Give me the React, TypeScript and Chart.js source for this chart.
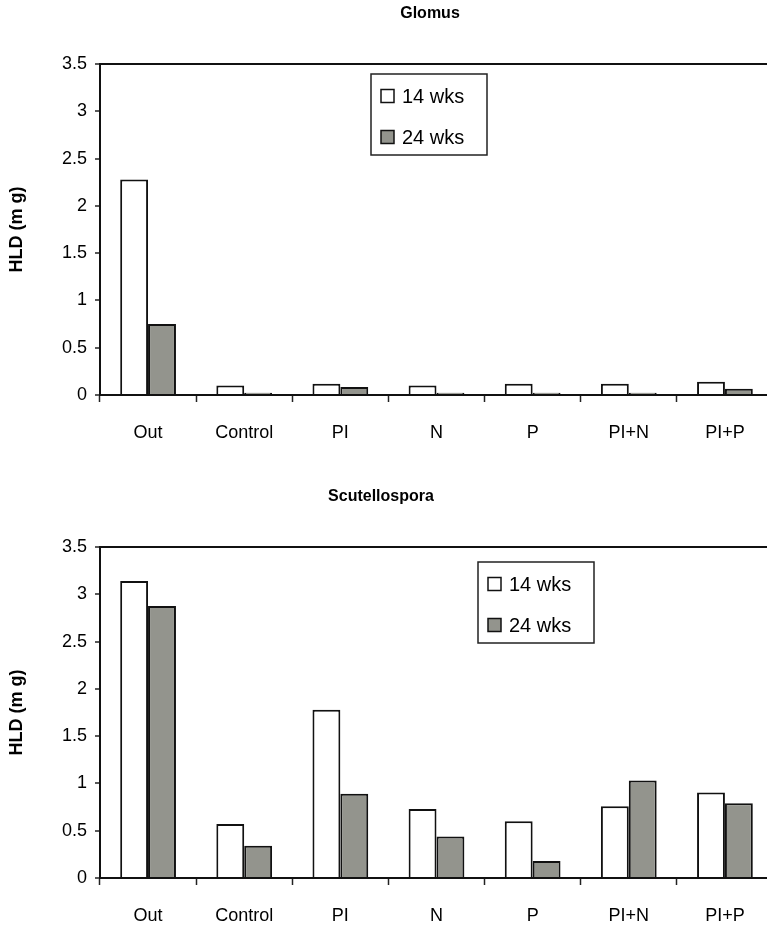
import React, { useEffect, useRef } from "react";
import { Chart, registerables } from "chart.js";

Chart.register(...registerables);

// ---- data ----
const categories = ["Out", "Control", "PI", "N", "P", "PI+N", "PI+P"];
const seriesNames = ["14 wks", "24 wks"];
const glomus14 = [2.28, 0.1, 0.12, 0.1, 0.12, 0.12, 0.14];
const glomus24 = [0.75, 0.025, 0.085, 0.025, 0.025, 0.025, 0.065];
const scut14 = [3.14, 0.57, 1.78, 0.73, 0.6, 0.76, 0.905];
const scut24 = [2.875, 0.34, 0.89, 0.44, 0.18, 1.03, 0.79];
const yMin = 0;
const yMax = 3.5;
const yStep = 0.5;
const yTitle = "HLD (m g)";

const FONT = "'Liberation Sans', Arial, Helvetica, sans-serif";
const GRAY = "#93948d";
const INK = "#111111";
const CW = 800;
const CH = 483;

type PanelProps = {
  title: string;
  titleX: number;
  legendX: number;
  legendY: number;
  s1: number[];
  s2: number[];
};

function BarPanel({ title, titleX, legendX, legendY, s1, s2 }: PanelProps) {
  const ref = useRef<HTMLCanvasElement | null>(null);

  useEffect(() => {
    if (!ref.current) return;

    const titlePlugin = {
      id: "panelTitle",
      afterDraw(chart: any) {
        const ctx = chart.ctx;
        ctx.save();
        ctx.font = `bold 16px ${FONT}`;
        ctx.fillStyle = "#000";
        ctx.textAlign = "center";
        ctx.textBaseline = "middle";
        ctx.fillText(title, titleX, 14);
        ctx.restore();
      },
    };

    const legendPlugin = {
      id: "boxLegend",
      afterDraw(chart: any) {
        const ctx = chart.ctx;
        const w = 116;
        const h = 81;
        ctx.save();
        ctx.fillStyle = "#fff";
        ctx.fillRect(legendX, legendY, w, h);
        ctx.strokeStyle = "#222";
        ctx.lineWidth = 1.5;
        ctx.strokeRect(legendX, legendY, w, h);
        chart.data.datasets.forEach((ds: any, i: number) => {
          const cy = legendY + 22 + i * 41;
          ctx.fillStyle = ds.backgroundColor;
          ctx.fillRect(legendX + 10, cy - 6.5, 13, 13);
          ctx.strokeStyle = INK;
          ctx.lineWidth = 1.5;
          ctx.strokeRect(legendX + 10, cy - 6.5, 13, 13);
          ctx.fillStyle = "#000";
          ctx.font = `20px ${FONT}`;
          ctx.textAlign = "left";
          ctx.textBaseline = "middle";
          ctx.fillText(ds.label, legendX + 31, cy + 1);
        });
        ctx.restore();
      },
    };

    const chart = new Chart(ref.current, {
      type: "bar",
      data: {
        labels: categories,
        datasets: [
          {
            label: seriesNames[0],
            data: s1,
            backgroundColor: "#ffffff",
            borderColor: INK,
            borderWidth: 2,
            categoryPercentage: 0.58,
            barPercentage: 1,
          },
          {
            label: seriesNames[1],
            data: s2,
            backgroundColor: GRAY,
            borderColor: INK,
            borderWidth: 2,
            categoryPercentage: 0.58,
            barPercentage: 1,
          },
        ],
      },
      options: {
        animation: false,
        responsive: false,
        maintainAspectRatio: false,
        devicePixelRatio: 1,
        layout: { padding: { top: 64, right: 27, left: 0, bottom: 0 } },
        plugins: {
          legend: { display: false },
          tooltip: { enabled: false },
          title: { display: false },
        },
        scales: {
          x: {
            offset: true,
            grid: {
              display: true,
              offset: true,
              drawOnChartArea: false,
              drawTicks: true,
              tickLength: 7,
              tickColor: "#222",
              tickWidth: 1.5,
            },
            border: { display: true, color: INK, width: 2 },
            ticks: {
              color: "#000",
              font: { size: 18, family: FONT },
              padding: 20,
              maxRotation: 0,
              autoSkip: false,
            },
            afterFit: (s: any) => {
              s.height = CH - 395;
            },
          },
          y: {
            min: yMin,
            max: yMax,
            ticks: {
              stepSize: yStep,
              color: "#000",
              font: { size: 18, family: FONT },
              padding: 8,
              callback: (v: any) => String(+v),
            },
            grid: {
              drawOnChartArea: true,
              color: (c: any) =>
                c.tick && c.tick.value === yMax ? INK : "rgba(0,0,0,0)",
              lineWidth: 2,
              drawTicks: true,
              tickLength: 5,
              tickColor: "#222",
              tickWidth: 1.5,
            },
            border: { display: true, color: INK, width: 2 },
            title: {
              display: true,
              text: yTitle,
              color: "#000",
              font: { size: 18, weight: "bold", family: FONT },
              padding: { top: 6, bottom: 0 },
            },
            afterFit: (s: any) => {
              s.width = 100;
            },
          },
        },
      },
      plugins: [titlePlugin, legendPlugin],
    } as any);

    return () => chart.destroy();
  }, [title, titleX, legendX, legendY, s1, s2]);

  return (
    <canvas
      ref={ref}
      width={CW}
      height={CH}
      style={{ display: "block", width: CW, height: CH }}
    />
  );
}

export default function App() {
  return (
    <div
      style={{
        position: "absolute",
        left: 0,
        top: 0,
        width: 767,
        height: 928,
        overflow: "hidden",
        background: "#fff",
      }}
    >
      <div style={{ position: "absolute", left: 0, top: 0 }}>
        <BarPanel
          title="Glomus"
          titleX={430}
          legendX={371}
          legendY={74}
          s1={glomus14}
          s2={glomus24}
        />
      </div>
      <div style={{ position: "absolute", left: 0, top: 483 }}>
        <BarPanel
          title="Scutellospora"
          titleX={381}
          legendX={478}
          legendY={79}
          s1={scut14}
          s2={scut24}
        />
      </div>
    </div>
  );
}
